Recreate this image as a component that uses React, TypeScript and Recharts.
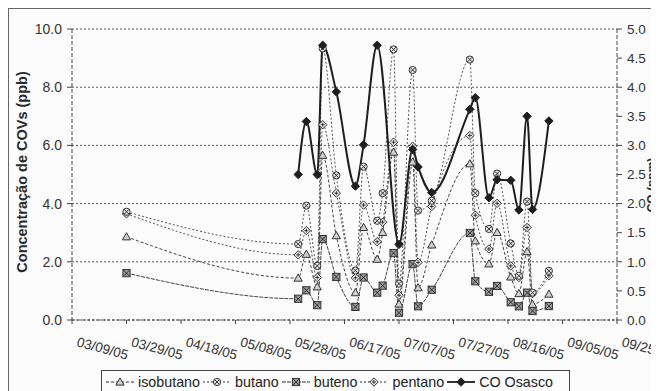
import React from "react";
import { LineChart, Line, XAxis, YAxis, CartesianGrid } from "recharts";

// Sampling days counted from 03/09/05 (day 0)
const DAYS = [20, 83, 86, 90, 92, 97, 104, 107, 112, 114, 118, 120, 125, 127, 132, 146, 148, 153, 156, 161, 164, 167, 169, 175];

// VOCs in ppb (left axis)
const ISOBUTANO = [2.86, 1.44, 2.26, 1.14, 5.66, 2.9, 0.94, 3.18, 2.09, 3.01, 5.77, 0.55, 5.43, 1.11, 2.58, 5.37, 2.72, 1.93, 3.01, 1.48, 0.91, 2.35, 0.54, 0.89];
const BUTANO = [3.72, 2.61, 3.93, 1.86, 9.33, 4.97, 1.7, 5.27, 3.41, 4.36, 9.3, 1.25, 8.59, 3.76, 4.1, 8.95, 4.36, 3.13, 5.03, 2.63, 1.52, 4.07, 0.94, 1.69];
const BUTENO = [1.61, 0.73, 1.02, 0.51, 2.78, 1.48, 0.45, 1.46, 0.94, 1.18, 2.3, 0.25, 1.92, 0.47, 1.04, 2.99, 1.33, 0.97, 1.17, 0.61, 0.47, 0.94, 0.31, 0.48];
const PENTANO = [3.65, 2.24, 3.07, 1.46, 6.71, 4.36, 1.45, 3.95, 2.69, 3.36, 6.11, 0.85, 5.97, 1.98, 3.9, 6.34, 3.6, 2.44, 4.01, 1.86, 1.46, 3.18, 0.91, 1.52];
// CO in ppm (right axis)
const CO = [null, 2.5, 3.41, 2.5, 4.72, 3.92, 2.3, 3.01, 4.72, null, null, 1.3, 2.93, 2.63, 2.19, 3.62, 3.82, 2.1, 2.41, 2.4, 1.89, 3.5, 1.9, 3.42];

const X_TICKS = [0, 20, 40, 60, 80, 100, 120, 140, 160, 180, 200];
const LEFT_TICKS = [0, 2, 4, 6, 8, 10];
const RIGHT_TICKS = [0, 0.5, 1, 1.5, 2, 2.5, 3, 3.5, 4, 4.5, 5];

const data = DAYS.map((d, i) => ({
  day: d,
  isobutano: ISOBUTANO[i],
  butano: BUTANO[i],
  buteno: BUTENO[i],
  pentano: PENTANO[i],
  co: CO[i],
}));

const FONT = "Arial, 'Liberation Sans', sans-serif";
const INK = "#2a2a2a";

const fmtDate = (day: number) => {
  const dt = new Date(2005, 2, 9 + day);
  const p = (n: number) => String(n).padStart(2, "0");
  return `${p(dt.getMonth() + 1)}/${p(dt.getDate())}/${p(dt.getFullYear() % 100)}`;
};

type Kind = "tri" | "circ" | "sq" | "star" | "dia";

function Marker({ kind, cx, cy }: { kind: Kind; cx: number; cy: number }) {
  const s = 3.6;
  if (kind === "tri")
    return (
      <path
        d={`M${cx},${cy - s - 0.5}L${cx + s + 0.5},${cy + s - 0.5}L${cx - s - 0.5},${cy + s - 0.5}Z`}
        fill="#cfcfcf"
        stroke="#333"
        strokeWidth={1}
      />
    );
  if (kind === "circ")
    return (
      <g stroke="#333" strokeWidth={1}>
        <circle cx={cx} cy={cy} r={s} fill="#e6e6e6" />
        <path d={`M${cx - 2.4},${cy - 2.4}L${cx + 2.4},${cy + 2.4}M${cx + 2.4},${cy - 2.4}L${cx - 2.4},${cy + 2.4}`} />
      </g>
    );
  if (kind === "sq")
    return (
      <g stroke="#333" strokeWidth={1}>
        <rect x={cx - s} y={cy - s} width={2 * s} height={2 * s} fill="#9a9a9a" />
        <path d={`M${cx - s},${cy - s}L${cx + s},${cy + s}M${cx + s},${cy - s}L${cx - s},${cy + s}`} />
      </g>
    );
  if (kind === "star")
    return (
      <g stroke="#333" strokeWidth={1}>
        <path d={`M${cx},${cy - s - 0.6}L${cx + s + 0.6},${cy}L${cx},${cy + s + 0.6}L${cx - s - 0.6},${cy}Z`} fill="#eee" />
        <path d={`M${cx - 2},${cy}L${cx + 2},${cy}M${cx},${cy - 2}L${cx},${cy + 2}`} />
      </g>
    );
  return (
    <path
      d={`M${cx},${cy - 4.2}L${cx + 4.2},${cy}L${cx},${cy + 4.2}L${cx - 4.2},${cy}Z`}
      fill="#1e1e1e"
      stroke="#1e1e1e"
    />
  );
}

const dotFor = (kind: Kind) => (props: any) => {
  const { cx, cy, value, index } = props;
  if (value == null || cx == null || cy == null) return <g key={`e${kind}${index}`} />;
  return (
    <g key={`${kind}${index}`}>
      <Marker kind={kind} cx={cx} cy={cy} />
    </g>
  );
};

const DateTick = (props: any) => {
  const { x, y, payload } = props;
  const tx = x + 4;
  const ty = y + 20;
  return (
    <text
      x={tx}
      y={ty}
      transform={`rotate(15 ${tx} ${ty})`}
      textAnchor="start"
      fontSize={13.5}
      fontFamily={FONT}
      fill="#333"
    >
      {fmtDate(payload.value)}
    </text>
  );
};

const LEGEND: { label: string; kind: Kind; dash: string; w: number }[] = [
  { label: "isobutano", kind: "tri", dash: "3 2", w: 1 },
  { label: "butano", kind: "circ", dash: "2 2", w: 1 },
  { label: "buteno", kind: "sq", dash: "4 1", w: 1 },
  { label: "pentano", kind: "star", dash: "2 2", w: 1 },
  { label: "CO Osasco", kind: "dia", dash: "", w: 2 },
];

const tickStyle = { fontSize: 14, fontFamily: FONT, fill: "#333" };
const rightTickStyle = { fontSize: 13.5, fontFamily: FONT, fill: "#333" };

export default function App() {
  return (
    <div
      style={{
        position: "relative",
        width: 651,
        height: 383,
        overflow: "hidden",
        background: "#fcfcfc",
        borderTop: "1px solid #666",
        borderLeft: "1px solid #666",
        boxSizing: "border-box",
        fontFamily: FONT,
      }}
    >
      <LineChart width={651} height={383} data={data} margin={{ top: 20, right: 0, bottom: 0, left: -1 }}>
        <CartesianGrid yAxisId="left" vertical={false} stroke="#555" strokeDasharray="2 2" />
        <XAxis
          dataKey="day"
          type="number"
          domain={[0, 200]}
          ticks={X_TICKS}
          interval={0}
          height={72}
          tickSize={4}
          tickMargin={2}
          tick={<DateTick />}
          axisLine={{ stroke: "#444", strokeDasharray: "3 2" }}
          tickLine={{ stroke: "#444" }}
        />
        <YAxis
          yAxisId="left"
          domain={[0, 10]}
          ticks={LEFT_TICKS}
          width={64}
          tickSize={5}
          tickMargin={5}
          tickFormatter={(v: number) => v.toFixed(1)}
          tick={tickStyle}
          axisLine={{ stroke: "#444", strokeDasharray: "4 2" }}
          tickLine={{ stroke: "#444" }}
          label={{
            content: () => (
              <text
                x={13}
                y={163}
                transform="rotate(-90 13 163)"
                textAnchor="middle"
                dominantBaseline="central"
                fontSize={14.5}
                fontWeight="bold"
                fontFamily={FONT}
                fill={INK}
              >
                Concentração de COVs (ppb)
              </text>
            ),
          }}
        />
        <YAxis
          yAxisId="right"
          orientation="right"
          domain={[0, 5]}
          ticks={RIGHT_TICKS}
          width={43}
          tickSize={5}
          tickMargin={5}
          tickFormatter={(v: number) => v.toFixed(1)}
          tick={rightTickStyle}
          axisLine={{ stroke: "#444", strokeDasharray: "4 2" }}
          tickLine={{ stroke: "#444" }}
          label={{
            content: () => (
              <text
                x={643}
                y={176}
                transform="rotate(-90 643 176)"
                textAnchor="middle"
                dominantBaseline="central"
                fontSize={12}
                fontWeight="bold"
                fontFamily={FONT}
                fill={INK}
              >
                CO (ppm)
              </text>
            ),
          }}
        />
        <Line yAxisId="left" dataKey="buteno" type="monotone" stroke="#444" strokeWidth={1} strokeDasharray="4 1" dot={dotFor("sq")} isAnimationActive={false} />
        <Line yAxisId="left" dataKey="isobutano" type="monotone" stroke="#444" strokeWidth={1} strokeDasharray="3 2" dot={dotFor("tri")} isAnimationActive={false} />
        <Line yAxisId="left" dataKey="pentano" type="monotone" stroke="#555" strokeWidth={1} strokeDasharray="2 2" dot={dotFor("star")} isAnimationActive={false} />
        <Line yAxisId="left" dataKey="butano" type="monotone" stroke="#555" strokeWidth={1} strokeDasharray="2 2" dot={dotFor("circ")} isAnimationActive={false} />
        <Line yAxisId="right" dataKey="co" type="monotone" stroke="#1e1e1e" strokeWidth={2} connectNulls dot={dotFor("dia")} isAnimationActive={false} />
      </LineChart>
      <div
        style={{
          position: "absolute",
          left: 92,
          top: 361,
          width: 469,
          height: 40,
          border: "1px solid #444",
          boxSizing: "border-box",
          display: "flex",
          alignItems: "flex-start",
          paddingLeft: 4,
          paddingTop: 3,
          gap: 3,
          fontSize: 14.3,
          color: "#222",
        }}
      >
        {LEGEND.map((it) => (
          <div key={it.label} style={{ display: "flex", alignItems: "center", gap: 4 }}>
            <svg width={28} height={14}>
              <line x1={0} y1={7} x2={28} y2={7} stroke="#333" strokeWidth={it.w} strokeDasharray={it.dash || undefined} />
              <Marker kind={it.kind} cx={14} cy={7} />
            </svg>
            <span style={{ lineHeight: "16px" }}>{it.label}</span>
          </div>
        ))}
      </div>
    </div>
  );
}
